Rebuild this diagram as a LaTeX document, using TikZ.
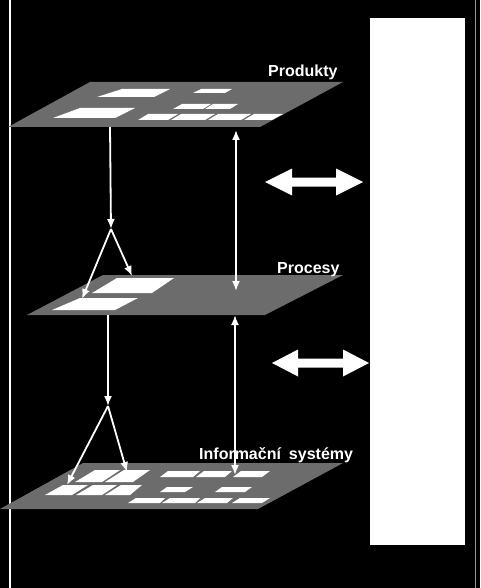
\documentclass[tikz,border=0pt]{standalone}
\usepackage{fontspec}
\setmainfont{Liberation Sans}
\usetikzlibrary{arrows.meta}
\definecolor{planegray}{RGB}{108,108,108}
\definecolor{edgegray}{RGB}{150,150,150}
\newcommand\slab[6]{% ybottom ytop bl br tl tr
  \fill[white] (#3,#1) -- (#4,#1) -- (#6,#2) -- (#5,#2) -- cycle;}
\newcommand\dblockarrow[4]{% xL xR cy headlen
  \fill[white] (#1,#3) -- ({#1+#4},{#3-13.5}) -- ({#1+#4},{#3-4.5}) -- ({#2-#4},{#3-4.5})
    -- ({#2-#4},{#3-13.5}) -- (#2,#3) -- ({#2-#4},{#3+13.5}) -- ({#2-#4},{#3+4.5})
    -- ({#1+#4},{#3+4.5}) -- ({#1+#4},{#3+13.5}) -- cycle;}
\tikzset{
  plane/.style={fill=planegray},
  wa/.style={draw=white, line width=1.8pt, -{Latex[length=10pt,width=8pt]}},
  wda/.style={draw=white, line width=1.8pt, {Latex[length=10pt,width=8pt]}-{Latex[length=10pt,width=8pt]}},
  lbl/.style={text=white, font=\bfseries\fontsize{16}{18}\selectfont, inner sep=0pt, anchor=base west}
}
\begin{document}
\begin{tikzpicture}[x=1pt,y=-1pt]
\useasboundingbox (0,0) rectangle (480,588);
\fill[black] (0,0) rectangle (480,588);
% frame lines
\fill[white] (8.5,0) rectangle (10.5,588);
\fill[edgegray] (474.5,0) rectangle (475.5,588);
% right white panel
\fill[white] (370,18) rectangle (465,545);

% plane 1 : Produkty
\fill[plane] (8,127) -- (260,127) -- (343,82) -- (90,82) -- cycle;
\slab{97}{89}{97}{154}{122}{170}
\slab{118}{108}{53}{115}{80}{135}
\slab{93}{89}{193}{225}{201}{232}
\slab{109}{104}{173}{203}{182}{211}
\slab{109}{104}{205}{230}{213}{238}
\slab{120}{114}{138}{168}{148}{178}
\slab{120}{114}{171}{205}{181}{215}
\slab{120}{114}{208}{241}{218}{251}
\slab{120}{114}{244}{272}{254}{283}

% plane 2 : Procesy
\fill[plane] (27,315) -- (265,315) -- (343,275) -- (103,275) -- cycle;
\slab{293}{278}{92}{152}{117}{174}
\slab{310}{298}{52}{115}{80}{138}

% plane 3 : Informacni systemy
\fill[plane] (0,509) -- (258,509) -- (343,463) -- (83,463) -- cycle;
\slab{482}{470}{75}{102}{95}{120}
\slab{482}{470}{105}{133}{124}{150}
\slab{477}{471}{160}{193}{168}{200}
\slab{477}{471}{196}{225}{204}{232}
\slab{477}{471}{233}{262}{241}{270}
\slab{495}{485}{45}{72}{63}{88}
\slab{495}{485}{76}{102}{93}{117}
\slab{495}{485}{105}{130}{121}{142}
\slab{492}{487}{160}{185}{167}{193}
\slab{492}{487}{215}{245}{222}{252}
\slab{503}{498}{128}{160}{136}{165}
\slab{503}{498}{162}{195}{170}{200}
\slab{503}{498}{197}{227}{205}{233}
\slab{503}{498}{232}{262}{240}{270}

% labels
\node[lbl] (lprod) at (268,77) {Produkty};
\node[lbl] (lproc) at (277,273) {Procesy};
\node[lbl] (linfo) at (199,459) {Informační\hspace{8pt}systémy};

% arrow coordinates
\coordinate (p1) at (110,127);
\coordinate (ap1) at (111,229);
\coordinate (t1l) at (82,299);
\coordinate (t1r) at (132,276);
\coordinate (p2) at (108,315);
\coordinate (ap2) at (108,406);
\coordinate (t2l) at (67,485);
\coordinate (t2r) at (127,472);
\coordinate (d1a) at (236,130);
\coordinate (d1b) at (236,291);
\coordinate (d2a) at (235,315);
\coordinate (d2b) at (235,475);

\draw[wa] (p1) -- (ap1);
\draw[wa] (ap1) -- (t1l);
\draw[wa] (ap1) -- (t1r);
\draw[wa] (p2) -- (ap2);
\draw[wa] (ap2) -- (t2l);
\draw[wa] (ap2) -- (t2r);
\draw[wda] (d1a) -- (d1b);
\draw[wda] (d2a) -- (d2b);

% block double arrows
\dblockarrow{265}{363}{182}{27}
\dblockarrow{272}{369}{363}{26}
\end{tikzpicture}
\end{document}
